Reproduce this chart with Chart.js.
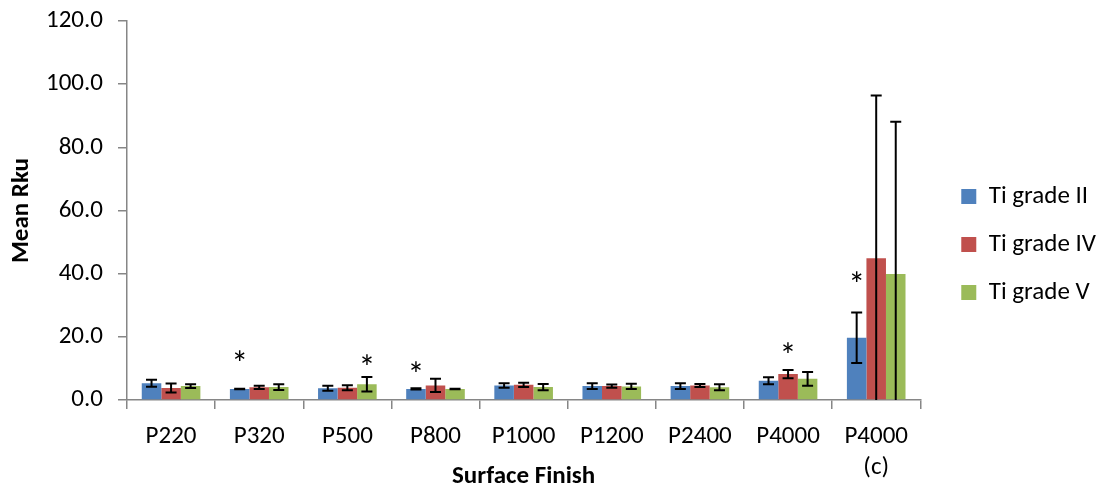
<!DOCTYPE html>
<html>
<head>
<meta charset="utf-8">
<script src="https://cdn.jsdelivr.net/npm/chart.js@4/dist/chart.umd.min.js"></script>
<style>
  html, body { margin: 0; padding: 0; background: #fff; }
  #wrap { width: 1106px; height: 489px; }
</style>
</head>
<body>
<div id="wrap"><canvas id="rku_canvas"></canvas></div>
<script>
const categories = ['P220', 'P320', 'P500', 'P800', 'P1000', 'P1200', 'P2400', 'P4000', ['P4000', '(c)']];
const series_names = ['Ti grade II', 'Ti grade IV', 'Ti grade V'];
const series_colors = ['#4F81BD', '#C0504D', '#9BBB59'];

const grade_ii = [5.3, 3.5, 3.7, 3.5, 4.6, 4.4, 4.4, 6.1, 19.7];
const grade_ii_sd = [1.1, 0.1, 0.8, 0.2, 0.7, 0.9, 0.9, 1.1, 8.0];
const grade_iv = [3.8, 4.0, 3.9, 4.6, 4.8, 4.4, 4.6, 8.2, 44.9];
const grade_iv_sd = [1.4, 0.5, 0.8, 2.1, 0.7, 0.5, 0.5, 1.3, 51.5];
const grade_v = [4.4, 4.1, 5.0, 3.5, 4.1, 4.3, 4.0, 6.7, 39.9];
const grade_v_sd = [0.6, 0.9, 2.3, 0.1, 1.0, 0.85, 0.95, 2.2, 48.2];

const y_ticks = [0, 20, 40, 60, 80, 100, 120];

// significance markers: which series, which category, and the level they sit at
const star_series = [0, 2, 0, 1, 0];
const star_category = [1, 2, 3, 7, 8];
const star_level = [13.3, 12.0, 9.8, 15.8, 38.3];

const FONT = "Carlito, Calibri, 'Open Sans', sans-serif";
const FONT_SIZE = 25;
const AXIS_GREY = '#868686';

/**
 * Draws the +/- standard deviation whiskers on top of every bar.
 */
const error_bar_plugin = {
  id: 'error_bars',
  afterDatasetsDraw(chart) {
    const ctx = chart.ctx;
    const y_scale = chart.scales.y;
    const area = chart.chartArea;
    ctx.save();
    ctx.beginPath();
    ctx.rect(area.left, area.top - 2, area.right - area.left, area.bottom - area.top + 2);
    ctx.clip();
    ctx.strokeStyle = '#000';
    ctx.lineWidth = 2;
    chart.data.datasets.forEach((dataset, i) => {
      const meta = chart.getDatasetMeta(i);
      meta.data.forEach((bar, j) => {
        const value = dataset.data[j];
        const sd = dataset.sd[j];
        const y_hi = y_scale.getPixelForValue(value + sd);
        const y_lo = y_scale.getPixelForValue(Math.max(value - sd, 0));
        const half = 5.5;
        ctx.beginPath();
        ctx.moveTo(bar.x, y_hi);
        ctx.lineTo(bar.x, y_lo);
        ctx.moveTo(bar.x - half, y_hi);
        ctx.lineTo(bar.x + half, y_hi);
        if (value - sd > 0) {
          ctx.moveTo(bar.x - half, y_lo);
          ctx.lineTo(bar.x + half, y_lo);
        }
        ctx.stroke();
      });
    });
    ctx.restore();
  }
};

/**
 * Writes an asterisk over the bars that differ significantly.
 */
const star_plugin = {
  id: 'stars',
  afterDatasetsDraw(chart) {
    const ctx = chart.ctx;
    const y_scale = chart.scales.y;
    const size = 34;
    ctx.save();
    ctx.fillStyle = '#000';
    ctx.font = size + 'px ' + FONT;
    ctx.textAlign = 'center';
    ctx.textBaseline = 'alphabetic';
    for (let k = 0; k < star_level.length; k++) {
      const bar = chart.getDatasetMeta(star_series[k]).data[star_category[k]];
      const y = y_scale.getPixelForValue(star_level[k]);
      ctx.fillText('*', bar.x, y + size * 0.5);
    }
    ctx.restore();
  }
};

function build_datasets() {
  const values = [grade_ii, grade_iv, grade_v];
  const sds = [grade_ii_sd, grade_iv_sd, grade_v_sd];
  return series_names.map((name, i) => ({
    label: name,
    data: values[i],
    sd: sds[i],
    backgroundColor: series_colors[i],
    borderWidth: 0,
    categoryPercentage: 0.665,
    barPercentage: 1.0
  }));
}

new Chart(document.getElementById('rku_canvas'), {
  type: 'bar',
  data: {
    labels: categories,
    datasets: build_datasets()
  },
  plugins: [error_bar_plugin, star_plugin],
  options: {
    responsive: true,
    maintainAspectRatio: false,
    animation: false,
    layout: { padding: 0 },
    plugins: {
      tooltip: { enabled: false },
      legend: {
        position: 'right',
        labels: {
          boxWidth: 15,
          boxHeight: 15,
          padding: 23,
          color: '#000',
          font: { family: FONT, size: FONT_SIZE }
        }
      }
    },
    scales: {
      x: {
        grid: { drawOnChartArea: false, tickLength: 9, color: AXIS_GREY, lineWidth: 1.5 },
        border: { color: AXIS_GREY, width: 1.5 },
        ticks: {
          color: '#000',
          padding: 12,
          maxRotation: 0,
          autoSkip: false,
          font: { family: FONT, size: FONT_SIZE, lineHeight: 1.24 }
        },
        title: {
          display: true,
          text: 'Surface Finish',
          color: '#000',
          padding: 0,
          font: { family: FONT, size: FONT_SIZE, weight: 'bold', lineHeight: 1.0 }
        },
        afterFit(scale) { scale.height = 89; }
      },
      y: {
        min: 0,
        max: 120,
        afterBuildTicks(scale) { scale.ticks = y_ticks.map(v => ({ value: v })); },
        grid: { drawOnChartArea: false, tickLength: 9, color: AXIS_GREY, lineWidth: 1.5 },
        border: { color: AXIS_GREY, width: 1.5 },
        ticks: {
          color: '#000',
          padding: 15,
          callback: v => v.toFixed(1),
          font: { family: FONT, size: FONT_SIZE, lineHeight: 1.2 }
        },
        title: {
          display: true,
          text: 'Mean Rku',
          color: '#000',
          padding: { top: 9.5, bottom: 0 },
          font: { family: FONT, size: FONT_SIZE, weight: 'bold', lineHeight: 1.0 }
        },
        afterFit(scale) {
          scale.width = 127;
          scale.paddingTop = 21;
          scale.paddingBottom = 0;
        }
      },
      gap: {
        position: 'right',
        display: true,
        grid: { display: false },
        border: { display: false },
        ticks: { display: false },
        afterFit(scale) { scale.width = 18; }
      }
    }
  }
});
</script>
</body>
</html>
